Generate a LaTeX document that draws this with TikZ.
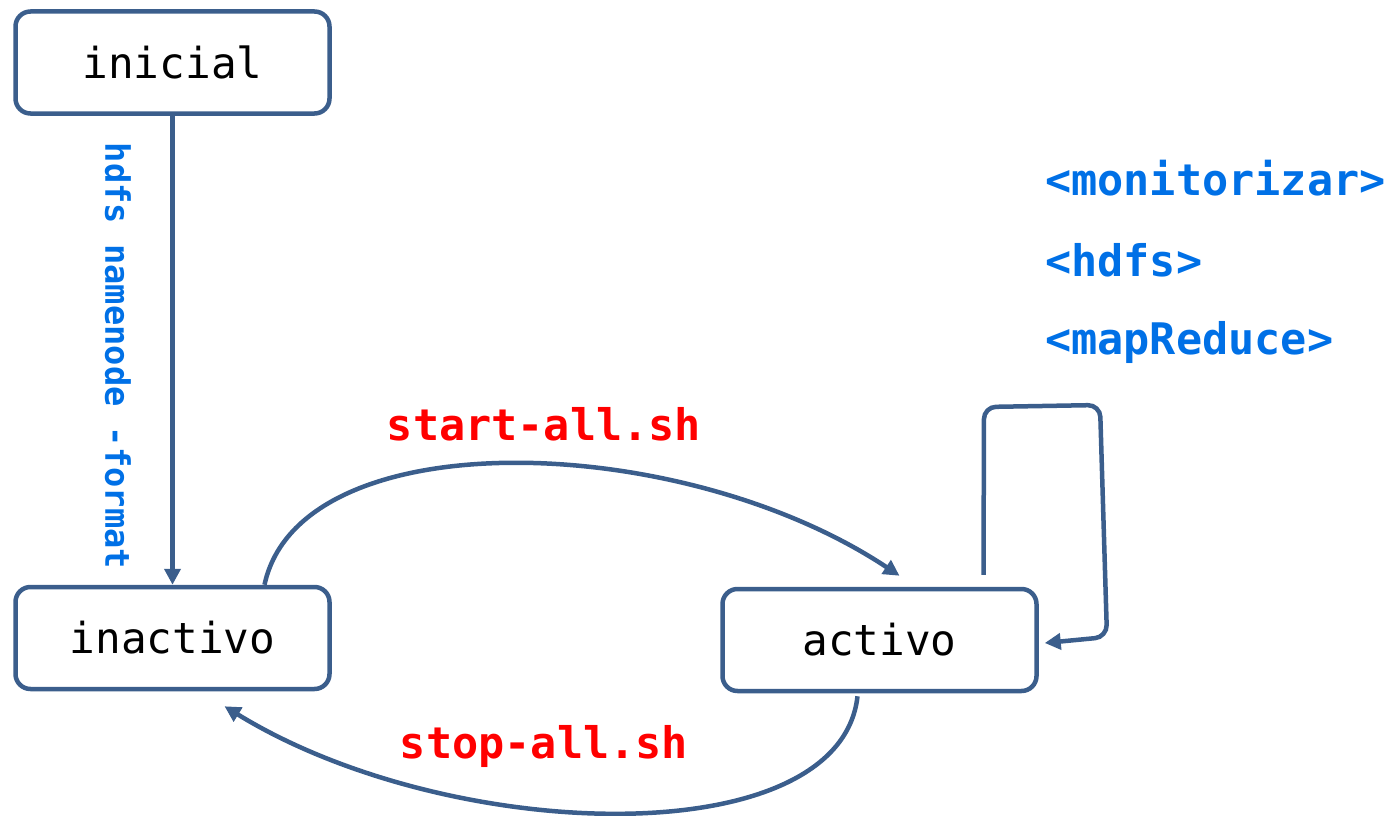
\documentclass[tikz,border=0pt]{standalone}
\usepackage{fontspec}
\setmonofont{DejaVu Sans Mono}
\usetikzlibrary{arrows.meta}
\definecolor{edge}{RGB}{59,94,140}
\definecolor{lblblue}{RGB}{0,112,230}
\definecolor{lblred}{RGB}{255,0,0}
\tikzset{
  statebox/.style={draw=edge, line width=4.5pt, rounded corners=15pt, fill=white,
    minimum width=314pt, minimum height=102pt, inner sep=0pt,
    font=\fontsize{42.7}{50}\selectfont\ttfamily, text=black},
  conn/.style={draw=edge, line width=4.5pt, -{Triangle[length=16pt,width=16pt]}},
  redlbl/.style={font=\fontsize{43.5}{50}\selectfont\ttfamily\bfseries, text=lblred, inner sep=0pt},
  bluelbl/.style={font=\fontsize{43.5}{50}\selectfont\ttfamily\bfseries, text=lblblue, inner sep=0pt},
  vlbl/.style={font=\fontsize{33.7}{40}\selectfont\ttfamily\bfseries, text=lblblue, inner sep=0pt}
}
\begin{document}
\begin{tikzpicture}[x=1pt, y=-1pt]
\useasboundingbox (0,0) rectangle (1397,816);
\node[statebox] (inicial) at (172.5,62.5) {inicial};
\node[statebox] (inactivo) at (172.5,638) {inactivo};
\node[statebox] (activo) at (879.5,640) {activo};

\draw[conn] (inicial) -- (inactivo);
\node[vlbl, rotate=-90] (fmt) at (118,356) {hdfs namenode  -format};

\coordinate (s1) at ([xshift=92pt]inactivo.north);
\coordinate (e1) at ([xshift=20pt,yshift=11pt]activo.north);
\draw[conn] (s1) .. controls (300,420) and (680,430) .. (e1);
\node[redlbl, anchor=base] (start) at (544,440) {start-all.sh};

\coordinate (s2) at ([xshift=-22pt,yshift=-3pt]activo.south);
\coordinate (e2) at ([xshift=52pt,yshift=-15pt]inactivo.south);
\draw[conn] (s2) .. controls (840,855) and (450,845) .. (e2);
\node[redlbl, anchor=base] (stop) at (544,758) {stop-all.sh};

\coordinate (s3) at ([xshift=104pt,yshift=12pt]activo.north);
\coordinate (e3) at ([xshift=6pt,yshift=-3pt]activo.east);
\draw[conn, rounded corners=12pt] (s3) -- (984,407) -- (1100,405) -- (1107,637) -- (e3);

\node[bluelbl, anchor=base west] (mon) at (1045,195) {<monitorizar>};
\node[bluelbl, anchor=base west] (hdfs) at (1045,276) {<hdfs>};
\node[bluelbl, anchor=base west] (mr) at (1045,354) {<mapReduce>};
\end{tikzpicture}
\end{document}
